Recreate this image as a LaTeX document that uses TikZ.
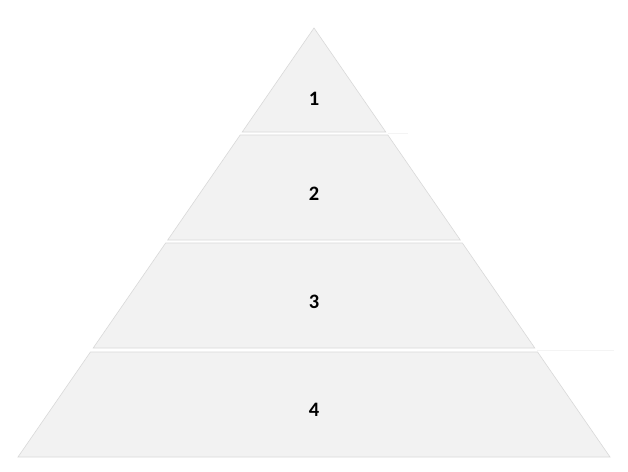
\documentclass[tikz,border=0pt]{standalone}
\usepackage{fontspec}
\setmainfont{Carlito}
\usepackage{tikz}

\definecolor{tierfill}{HTML}{F2F2F2}
\definecolor{tieredge}{HTML}{D9D9D9}
\definecolor{tierfaint}{HTML}{F4F4F4}

\tikzset{
  tier/.style={fill=tierfill,draw=tieredge,line width=0.6pt,line join=miter},
  tierlabel/.style={font=\fontsize{20.5}{24}\selectfont\bfseries,text=black,inner sep=0pt},
}

\begin{document}
\begin{tikzpicture}[x=1pt,y=-1pt]
  \useasboundingbox[fill=white] (0,0) rectangle (628,471);
  % \draw[thin,gray!40] (0,0) grid[step=50] (628,471);
  \foreach \n/\top/\bot/\ly in {1/28/132/99, 2/135/240/194, 3/243/348/302, 4/352/457/410}{
    \pgfmathsetmacro\wt{0.69*(\top-28)}
    \pgfmathsetmacro\wb{0.69*(\bot-28)}
    \draw[tier] (314-\wt,\top) -- (314+\wt,\top) -- (314+\wb,\bot) -- (314-\wb,\bot) -- cycle;
    \node[tierlabel] (tier\n) at (314,\ly) {\n};
  }
  % faint leftovers to the right
  \coordinate (faintA) at (388,133);
  \coordinate (faintB) at (408,133);
  \coordinate (faintC) at (537,350);
  \coordinate (faintD) at (614,350);
  \draw[tierfaint,line width=1pt] (faintA) -- (faintB);
  \draw[tierfaint,line width=1pt] (faintC) -- (faintD);
\end{tikzpicture}
\end{document}
